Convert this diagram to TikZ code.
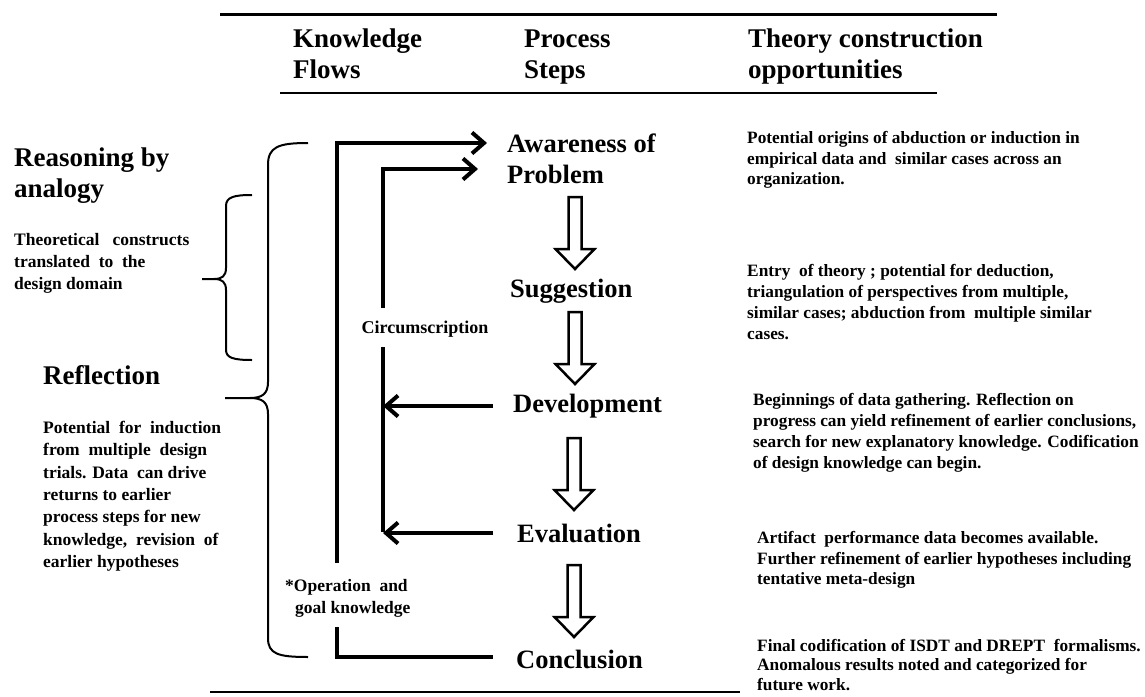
\documentclass[tikz,border=0pt]{standalone}
\usepackage{fontspec}
\setmainfont{Liberation Serif}
\usetikzlibrary{arrows.meta}
\begin{document}
\begin{tikzpicture}[x=1pt,y=-1pt,
  big/.style={font=\fontsize{27}{31}\selectfont\bfseries, align=left, inner sep=0pt, anchor=west},
  stepnode/.style={font=\fontsize{26.5}{31}\selectfont\bfseries, align=left, inner sep=0pt, anchor=west},
  small/.style={font=\fontsize{17.5}{22.3}\selectfont\bfseries, align=left, inner sep=0pt, anchor=west},
  note/.style={font=\fontsize{17.3}{20.8}\selectfont\bfseries, align=left, inner sep=0pt, anchor=west},
  flow/.style={line width=4pt},
  tip/.style={-{Straight Barb[length=12pt,width=21pt]}},
  brace/.style={line width=2pt},
  harrow/.pic={\draw[line width=2.5pt, fill=white] (-6.5,0) -- (6.5,0) -- (6.5,52) -- (19.5,52) -- (0,72) -- (-19.5,52) -- (-6.5,52) -- cycle;}
]
\useasboundingbox (0,0) rectangle (1145,696);

% rules
\draw[line width=3pt] (220,14) -- (997,14);
\draw[line width=2pt] (280,93) -- (937,93);
\draw[line width=2.5pt] (210,692) -- (740,692);

% header
\node[big] (kf) at (293,57) {Knowledge\strut\\Flows\strut};
\node[big] (ps) at (524,57) {Process\strut\\Steps\strut};
\node[big] (tc) at (748,57) {Theory construction\strut\\opportunities\strut};

% left titles
\node[big] (rba) at (14,176) {Reasoning by\strut\\analogy\strut};
\node[small] (tcd) at (14,263) {Theoretical\ \ \ constructs\strut\\translated\ \ to\ \ the\\design domain\strut};
\node[big] (refl) at (43,375) {Reflection};
\node[small] (refp) at (43,496) {Potential\ \ for\ \ induction\strut\\from\ \ multiple\ \ design\\trials. Data\ \ can drive\\returns to earlier\\process steps for new\\knowledge,\ \ revision\ \ of\\earlier hypotheses\strut};

% steps
\node[stepnode] (aw) at (507,162) {Awareness of\strut\\Problem\strut};
\node[stepnode] (sug) at (510,291) {Suggestion};
\node[stepnode] (dev) at (513,406) {Development};
\node[stepnode] (eva) at (517,533) {Evaluation};
\node[stepnode] (con) at (516,659) {Conclusion};

% hollow arrows
\pic at (575,197) {harrow};
\pic at (575,312) {harrow};
\pic at (574,438) {harrow};
\pic at (574,565) {harrow};

% flow labels
\node[small, anchor=center, font=\fontsize{18}{22}\selectfont\bfseries] (circ) at (425,329) {Circumscription};
\node[small] (opk) at (285,598) {*Operation\ \ and\strut\\\hspace*{10pt}goal knowledge\strut};

% outer loop
\coordinate (oS) at (493,657);
\coordinate (oC) at (337,657);
\coordinate (oG1) at (337,627);
\coordinate (oG2) at (337,563);
\coordinate (oT) at (337,143);
\draw[flow] (oS) -- (oC) -- (oG1);
\draw[flow, tip, shorten >=20pt] (oG2) -- (oT) -- (oT -| aw.west);

% inner loop
\coordinate (iG1) at (383,308);
\coordinate (iG2) at (383,347);
\coordinate (iT) at (383,169);
\coordinate (iB) at (383,532);
\draw[flow, tip, shorten >=29pt] (iG1) -- (iT) -- (iT -| aw.west);
\draw[flow] (iG2) -- (iB);
\draw[flow, tip, shorten <=20pt] (dev.west) -- (dev.west -| iB);
\draw[flow, tip, shorten <=24pt] (eva.west) -- (eva.west -| iB);

% braces
\draw[brace] (308,143) .. controls (278,143) and (268,147) .. (268,165) -- (268,382)
  .. controls (268,394) and (262,398) .. (250,398) -- (225,398);
\draw[brace] (250,398) .. controls (262,398) and (268,402) .. (268,414) -- (268,638)
  .. controls (268,654) and (278,657) .. (308,657);
\draw[brace] (252,195) .. controls (234,195) and (226,197) .. (226,206) -- (226,268)
  .. controls (226,276) and (222,279) .. (214,279) -- (202,279);
\draw[brace] (214,279) .. controls (222,279) and (226,282) .. (226,290) -- (226,350)
  .. controls (226,358) and (234,360) .. (252,360);

% right notes
\node[note] (r1) at (747,160) {Potential origins of abduction or induction in\strut\\empirical data and\ \ similar cases across an\\organization.\strut};
\node[note] (r2) at (747,304) {Entry\ \ of theory ; potential for deduction,\strut\\triangulation of perspectives from multiple,\\similar cases; abduction from\ \ multiple similar\\cases.\strut};
\node[note] (r3) at (753,433) {Beginnings of data gathering. Reflection on\strut\\progress can yield refinement of earlier conclusions,\\search for new explanatory knowledge. Codification\\of design knowledge can begin.\strut};
\node[note] (r4) at (757,560) {Artifact\ \ performance data becomes available.\strut\\Further refinement of earlier hypotheses including\\tentative meta-design\strut};
\node[note, font=\fontsize{17.3}{19.5}\selectfont\bfseries] (r5) at (757,667) {Final codification of ISDT and DREPT\ \ formalisms.\strut\\Anomalous results noted and categorized for\\future work.\strut};
\end{tikzpicture}
\end{document}
